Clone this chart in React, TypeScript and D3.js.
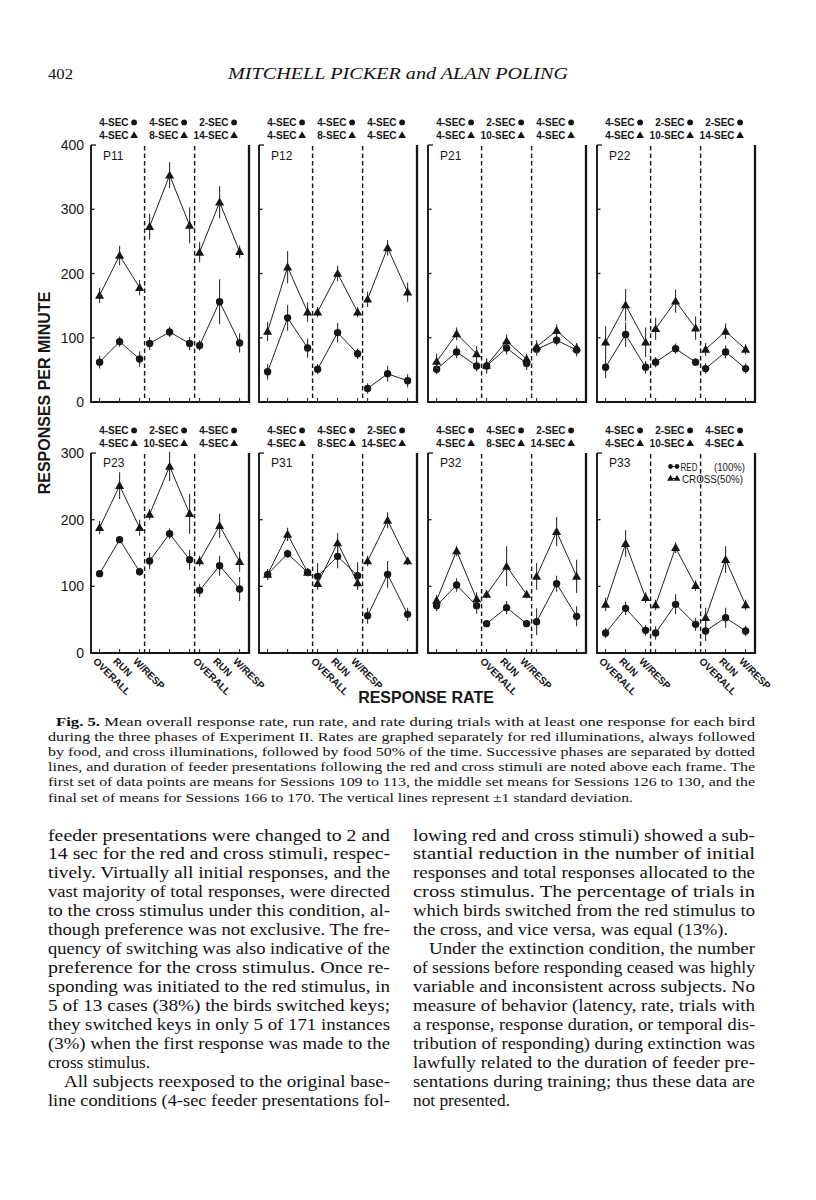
import React from "react";
import * as d3 from "d3";

// ---------------- DATA ----------------
const panelNames = ["P11", "P12", "P21", "P22", "P23", "P31", "P32", "P33"];
const categories = ["OVERALL", "RUN", "W/RESP"];
const topTicks = [0, 100, 200, 300, 400];
const bottomTicks = [0, 100, 200, 300];

// red (circle, 100% food) means and SDs; cross (triangle, 50% food) means and SDs
const p11Red = [62, 94, 67, 91, 109, 91, 88, 156, 92];
const p11RedSD = [10, 8, 12, 10, 8, 10, 8, 35, 15];
const p11Cross = [166, 228, 178, 273, 353, 275, 233, 311, 234];
const p11CrossSD = [12, 15, 12, 20, 20, 28, 16, 25, 10];

const p12Red = [47, 131, 84, 51, 108, 75, 21, 44, 33];
const p12RedSD = [12, 20, 15, 8, 15, 8, 8, 12, 10];
const p12Cross = [110, 210, 140, 140, 200, 140, 160, 240, 171];
const p12CrossSD = [15, 25, 15, 8, 12, 8, 12, 12, 15];

const p21Red = [51, 78, 56, 56, 84, 60, 82, 96, 81];
const p21RedSD = [8, 10, 8, 12, 10, 10, 10, 8, 10];
const p21Cross = [63, 106, 75, 57, 95, 67, 86, 111, 84];
const p21CrossSD = [12, 10, 12, 10, 10, 8, 10, 10, 8];

const p22Red = [54, 105, 54, 62, 83, 62, 52, 78, 52];
const p22RedSD = [17, 19, 10, 8, 8, 6, 8, 10, 8];
const p22Cross = [93, 151, 93, 114, 157, 115, 82, 110, 82];
const p22CrossSD = [25, 25, 23, 17, 18, 18, 10, 12, 8];

const p23Red = [119, 170, 122, 138, 179, 140, 94, 131, 96];
const p23RedSD = [5, 5, 6, 12, 8, 15, 10, 15, 18];
const p23Cross = [188, 251, 188, 208, 280, 209, 138, 191, 137];
const p23CrossSD = [10, 20, 12, 8, 22, 30, 8, 18, 15];

const p31Red = [118, 149, 121, 115, 145, 116, 56, 118, 58];
const p31RedSD = [8, 6, 6, 20, 18, 20, 12, 20, 10];
const p31Cross = [118, 178, 121, 104, 165, 105, 138, 199, 138];
const p31CrossSD = [8, 10, 6, 8, 15, 10, 8, 12, 6];

const p32Red = [71, 102, 71, 44, 68, 44, 47, 104, 55];
const p32RedSD = [8, 10, 12, 5, 10, 5, 20, 12, 15];
const p32Cross = [79, 153, 81, 88, 130, 88, 115, 182, 115];
const p32CrossSD = [8, 8, 10, 6, 30, 6, 20, 22, 25];

const p33Red = [30, 67, 34, 30, 73, 43, 33, 53, 33];
const p33RedSD = [8, 10, 8, 10, 15, 10, 15, 15, 8];
const p33Cross = [73, 164, 83, 72, 158, 101, 53, 140, 72];
const p33CrossSD = [10, 20, 8, 8, 8, 8, 15, 20, 8];

const redSeries = [p11Red, p12Red, p21Red, p22Red, p23Red, p31Red, p32Red, p33Red];
const redSDs = [p11RedSD, p12RedSD, p21RedSD, p22RedSD, p23RedSD, p31RedSD, p32RedSD, p33RedSD];
const crossSeries = [p11Cross, p12Cross, p21Cross, p22Cross, p23Cross, p31Cross, p32Cross, p33Cross];
const crossSDs = [p11CrossSD, p12CrossSD, p21CrossSD, p22CrossSD, p23CrossSD, p31CrossSD, p32CrossSD, p33CrossSD];

// feeder durations printed above each phase (red line, cross line)
const redFeeder = [
  ["4-SEC", "4-SEC", "2-SEC"],
  ["4-SEC", "4-SEC", "4-SEC"],
  ["4-SEC", "2-SEC", "4-SEC"],
  ["4-SEC", "2-SEC", "2-SEC"],
  ["4-SEC", "2-SEC", "4-SEC"],
  ["4-SEC", "4-SEC", "2-SEC"],
  ["4-SEC", "4-SEC", "2-SEC"],
  ["4-SEC", "2-SEC", "4-SEC"],
];
const crossFeeder = [
  ["4-SEC", "8-SEC", "14-SEC"],
  ["4-SEC", "8-SEC", "4-SEC"],
  ["4-SEC", "10-SEC", "4-SEC"],
  ["4-SEC", "10-SEC", "14-SEC"],
  ["4-SEC", "10-SEC", "4-SEC"],
  ["4-SEC", "8-SEC", "14-SEC"],
  ["4-SEC", "8-SEC", "14-SEC"],
  ["4-SEC", "10-SEC", "4-SEC"],
];
// [panel, phase] pairs that carry the rotated category labels
const categoryLabelSections = [[4, 0], [4, 2], [5, 1], [6, 1], [7, 0], [7, 2]];

const captionLines = [
  "Fig. 5. Mean overall response rate, run rate, and rate during trials with at least one response for each bird",
  "during the three phases of Experiment II. Rates are graphed separately for red illuminations, always followed",
  "by food, and cross illuminations, followed by food 50% of the time. Successive phases are separated by dotted",
  "lines, and duration of feeder presentations following the red and cross stimuli are noted above each frame. The",
  "first set of data points are means for Sessions 109 to 113, the middle set means for Sessions 126 to 130, and the",
  "final set of means for Sessions 166 to 170. The vertical lines represent ±1 standard deviation.",
];
const leftColumnLines = [
  "feeder presentations were changed to 2 and",
  "14 sec for the red and cross stimuli, respec-",
  "tively. Virtually all initial responses, and the",
  "vast majority of total responses, were directed",
  "to the cross stimulus under this condition, al-",
  "though preference was not exclusive. The fre-",
  "quency of switching was also indicative of the",
  "preference for the cross stimulus. Once re-",
  "sponding was initiated to the red stimulus, in",
  "5 of 13 cases (38%) the birds switched keys;",
  "they switched keys in only 5 of 171 instances",
  "(3%) when the first response was made to the",
  "cross stimulus.",
  "All subjects reexposed to the original base-",
  "line conditions (4-sec feeder presentations fol-",
];
const leftIndented = [13];
const leftRagged = [12];
const rightColumnLines = [
  "lowing red and cross stimuli) showed a sub-",
  "stantial reduction in the number of initial",
  "responses and total responses allocated to the",
  "cross stimulus. The percentage of trials in",
  "which birds switched from the red stimulus to",
  "the cross, and vice versa, was equal (13%).",
  "Under the extinction condition, the number",
  "of sessions before responding ceased was highly",
  "variable and inconsistent across subjects. No",
  "measure of behavior (latency, rate, trials with",
  "a response, response duration, or temporal dis-",
  "tribution of responding) during extinction was",
  "lawfully related to the duration of feeder pre-",
  "sentations during training; thus these data are",
  "not presented.",
];
const rightIndented = [6];
const rightRagged = [5, 14];

// ---------------- LAYOUT ----------------
const INK = "#161616";
const SANS = "'Liberation Sans', Arial, sans-serif";
const SERIF = "'Liberation Serif', 'Times New Roman', serif";
const panelLefts = [91, 259, 428, 597];
const panelWidth = 158;
const yTop = d3.scaleLinear().domain([0, 400]).range([402, 145]);
const yBot = d3.scaleLinear().domain([0, 300]).range([653, 453]);

const triPath = d3.symbol(d3.symbolTriangle, 36)() as string;
const triSmall = d3.symbol(d3.symbolTriangle, 26)() as string;
const triTiny = d3.symbol(d3.symbolTriangle, 20)() as string;

function Marker({ kind, cx, cy, size }: { kind: string; cx: number; cy: number; size?: string }) {
  if (kind === "circle") {
    const r = size === "tiny" ? 2.4 : size === "small" ? 2.9 : 3.7;
    return <circle cx={cx} cy={cy} r={r} fill={INK} />;
  }
  const d = size === "tiny" ? triTiny : size === "small" ? triSmall : triPath;
  return <path d={d} transform={`translate(${cx},${cy + 0.7})`} fill={INK} />;
}

function Panel({ idx }: { idx: number }) {
  const row = idx < 4 ? 0 : 1;
  const col = idx % 4;
  const left = panelLefts[col];
  const right = left + panelWidth;
  const y = row === 0 ? yTop : yBot;
  const ticks = row === 0 ? topTicks : bottomTicks;
  const yBottom = y(0);
  const yTopEdge = y(ticks[ticks.length - 1]);
  const x = d3.scaleLinear().domain([0, 7]).range([left + 8.6, left + 148.6]);
  const px = (k: number) => x(Math.floor(k / 3) * 2.5 + (k % 3));
  const series = [
    { kind: "circle", vals: redSeries[idx], sd: redSDs[idx] },
    { kind: "tri", vals: crossSeries[idx], sd: crossSDs[idx] },
  ];
  const segPath = (vals: number[], s: number) =>
    d3.line<number>()
      .x((_, i) => px(s * 3 + i))
      .y((v) => y(v))(vals.slice(s * 3, s * 3 + 3)) as string;

  return (
    <g>
      {/* phase separators */}
      {[1, 2].map((s) => {
        const xs = x(s * 2.5 - 0.25);
        return (
          <line key={"d" + s} x1={xs} x2={xs} y1={yTopEdge + 1} y2={yBottom} stroke={INK}
            strokeWidth={1.4} strokeDasharray="4.5 3" />
        );
      })}
      {/* frame */}
      <line x1={left} x2={left} y1={yTopEdge} y2={yBottom + 1} stroke={INK} strokeWidth={1.9} />
      <line x1={left} x2={right} y1={yBottom} y2={yBottom} stroke={INK} strokeWidth={1.9} />
      <line x1={right} x2={right} y1={yTopEdge} y2={yBottom + 1} stroke={INK} strokeWidth={2.3} />
      {ticks.filter((t) => t > 0).map((t) => (
        <line key={"yt" + t} x1={left} x2={left + (t === ticks[ticks.length - 1] ? 5 : 3.5)} y1={y(t)} y2={y(t)}
          stroke={INK} strokeWidth={1.3} />
      ))}
      {col === 0 &&
        ticks.map((t) => (
          <text key={"yl" + t} x={left - 7} y={y(t) + 5} textAnchor="end" fontSize={14}
            fontFamily={SANS} fill={INK}>{t}</text>
        ))}
      {d3.range(9).map((k) => (
        <line key={"xt" + k} x1={px(k)} x2={px(k)} y1={yBottom} y2={yBottom - 4} stroke={INK} strokeWidth={1} />
      ))}
      <text x={left + 12} y={yTopEdge + (row === 0 ? 15 : 14)} fontSize={12} fontFamily={SANS} fill={INK}>
        {panelNames[idx]}
      </text>
      {/* feeder duration labels */}
      {[0, 1, 2].map((s) => {
        const cx = x(s * 2.5 + 1);
        const y1 = yTopEdge - 19;
        const y2 = yTopEdge - 6;
        return (
          <g key={"f" + s} fontFamily={SANS} fontSize={10} fontWeight="bold" fill={INK}>
            <text x={cx + 9} y={y1} textAnchor="end">{redFeeder[idx][s]}</text>
            <Marker kind="circle" cx={cx + 14.5} cy={y1 - 3.6} size="small" />
            <text x={cx + 9} y={y2} textAnchor="end">{crossFeeder[idx][s]}</text>
            <Marker kind="tri" cx={cx + 14.5} cy={y2 - 4} size="small" />
          </g>
        );
      })}
      {/* data */}
      {series.map((ser) => (
        <g key={ser.kind}>
          {ser.vals.map((v, k) => (
            <line key={"e" + k} x1={px(k)} x2={px(k)} y1={y(v - ser.sd[k])} y2={y(v + ser.sd[k])}
              stroke="#333" strokeWidth={1.1} />
          ))}
          {[0, 1, 2].map((s) => (
            <path key={"l" + s} d={segPath(ser.vals, s)} fill="none" stroke="#222" strokeWidth={1} />
          ))}
          {ser.vals.map((v, k) => (
            <Marker key={"m" + k} kind={ser.kind} cx={px(k)} cy={y(v)} />
          ))}
        </g>
      ))}
      {/* rotated category labels */}
      {categoryLabelSections.filter(([p]) => p === idx).map(([, s]) =>
        categories.map((c, j) => {
          const lx = px(s * 3 + j) - 7;
          const ly = yBottom + 9;
          return (
            <text key={"c" + s + j} transform={`translate(${lx},${ly}) rotate(45)`} fontSize={10}
              fontFamily={SANS} fontWeight="bold" fill={INK}>{c}</text>
          );
        })
      )}
      {/* legend */}
      {idx === 7 && (
        <g fontFamily={SANS} fontSize={10} fill={INK}>
          <line x1={670.5} x2={677} y1={466.5} y2={466.5} stroke={INK} strokeWidth={1} />
          <Marker kind="circle" cx={670.5} cy={466.5} size="tiny" />
          <Marker kind="circle" cx={677} cy={466.5} size="tiny" />
          <text x={680.5} y={470.5} textLength={17} lengthAdjust="spacingAndGlyphs">RED</text>
          <text x={714} y={470.5} textLength={31} lengthAdjust="spacingAndGlyphs">(100%)</text>
          <line x1={670.5} x2={677} y1={478.5} y2={478.5} stroke={INK} strokeWidth={1} />
          <Marker kind="tri" cx={670.5} cy={478} size="tiny" />
          <Marker kind="tri" cx={677} cy={478} size="tiny" />
          <text x={682} y={482.5} textLength={61} lengthAdjust="spacingAndGlyphs">CROSS(50%)</text>
        </g>
      )}
    </g>
  );
}

function TextColumn({ lines, x0, width, y0, lead, indented, ragged, raggedWidths, size }:
  {
    lines: string[]; x0: number; width: number; y0: number; lead: number; indented: number[];
    ragged: number[]; raggedWidths: number[]; size: number
  }) {
  return (
    <g fontFamily={SERIF} fontSize={size} fill="#111">
      {lines.map((ln, i) => {
        const ind = indented.includes(i) ? 16 : 0;
        const ri = ragged.indexOf(i);
        const len = ri >= 0 ? raggedWidths[ri] : width - ind;
        return (
          <text key={i} x={x0 + ind} y={y0 + i * lead} textLength={len} lengthAdjust="spacingAndGlyphs">{ln}</text>
        );
      })}
    </g>
  );
}

const captionRaggedWidth = 585;

export default function App() {
  return (
    <svg width={816} height={1200} viewBox="0 0 816 1200"
      style={{ position: "absolute", left: 0, top: 0, display: "block", background: "#fff" }}>
      <rect x={0} y={0} width={816} height={1200} fill="#fff" />
      {/* running head */}
      <text x={48} y={79} fontFamily={SERIF} fontSize={15.5} fill="#111" textLength={25}
        lengthAdjust="spacingAndGlyphs">402</text>
      <text x={228} y={79} fontFamily={SERIF} fontStyle="italic" fontSize={16.5} fill="#111"
        textLength={340} lengthAdjust="spacingAndGlyphs">MITCHELL PICKER and ALAN POLING</text>

      {panelNames.map((n, i) => <Panel key={n} idx={i} />)}

      {/* axis titles */}
      <text transform="translate(50,393) rotate(-90)" textAnchor="middle" fontFamily={SANS}
        fontSize={16} fontWeight="bold" fill={INK}>RESPONSES PER MINUTE</text>
      <text x={426} y={703} textAnchor="middle" fontFamily={SANS} fontSize={16} fontWeight="bold"
        fill={INK}>RESPONSE RATE</text>

      {/* caption */}
      <g fontFamily={SERIF} fontSize={13} fill="#111">
        {captionLines.map((ln, i) => {
          const ind = i === 0 ? 8 : 0;
          const last = i === captionLines.length - 1;
          return (
            <text key={i} x={48 + ind} y={725.5 + i * 15.2}
              textLength={last ? captionRaggedWidth : 707 - ind} lengthAdjust="spacingAndGlyphs">
              {i === 0 ? (<><tspan fontWeight="bold">Fig. 5.</tspan>{ln.slice(7)}</>) : ln}
            </text>
          );
        })}
      </g>

      {/* body text */}
      <TextColumn lines={leftColumnLines} x0={48} width={342} y0={840.5} lead={18.93}
        indented={leftIndented} ragged={leftRagged} raggedWidths={[102]} size={17} />
      <TextColumn lines={rightColumnLines} x0={413} width={342} y0={840.5} lead={18.93}
        indented={rightIndented} ragged={rightRagged} raggedWidths={[315, 97]} size={17} />
    </svg>
  );
}
